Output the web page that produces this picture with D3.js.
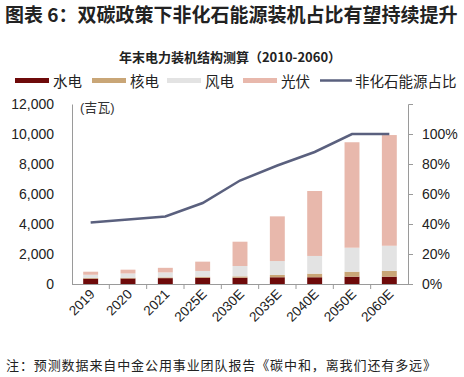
<!DOCTYPE html>
<html><head><meta charset="utf-8">
<script src="https://cdn.jsdelivr.net/npm/d3@7"></script>
<style>
body{margin:0;background:#fff;}
svg{display:block;}
</style></head>
<body><svg id="c" width="464" height="377"></svg>
<script>
const categories = ["2019","2020","2021","2025E","2030E","2035E","2040E","2050E","2060E"];
const hydro   = [356, 370, 391, 420, 420, 450, 450, 490, 490];
const nuclear = [49, 50, 53, 70, 90, 150, 240, 330, 380];
const wind    = [210, 282, 328, 380, 690, 930, 1180, 1600, 1680];
const solar   = [205, 253, 306, 620, 1620, 2980, 4330, 7030, 7380];
const share   = [0.41, 0.43, 0.45, 0.54, 0.69, 0.79, 0.88, 1.0, 1.0];
const leftTicks = [0, 2000, 4000, 6000, 8000, 10000, 12000];
const rightTicks = [0, 0.2, 0.4, 0.6, 0.8, 1.0];
const seriesNames = ["水电","核电","风电","光伏"];
const seriesColors = ["#6e0a0a","#c9a677","#e3e3e3","#e8b8ac"];
const lineName = "非化石能源占比";
const lineColor = "#5a607e";

const svg = d3.select("#c");
const font = "'Liberation Sans', Arial, 'Noto Sans CJK SC', sans-serif";
const cjk = "'Noto Sans CJK SC', sans-serif";

const x0 = 72, x1 = 408, yTop = 104, yBot = 284;
const x = d3.scaleBand().domain(categories).range([x0, x1]).paddingInner(0.6).paddingOuter(0.3);
const y = d3.scaleLinear().domain([0, 12000]).range([yBot, yTop]);
const y2 = d3.scaleLinear().domain([0, 1.2]).range([yBot, yTop]);

// title
svg.append("text").attr("x", 5).attr("y", 22).attr("font-family", cjk).attr("font-weight", "bold")
  .attr("font-size", 19).attr("fill", "#222").text("图表 6：双碳政策下非化石能源装机占比有望持续提升");
svg.append("text").attr("x", 230).attr("y", 62).attr("text-anchor", "middle").attr("font-family", cjk)
  .attr("font-weight", "bold").attr("font-size", 13).attr("fill", "#222").text("年末电力装机结构测算（2010-2060）");

// legend
const legX = [15, 92, 167, 243];
seriesNames.forEach((n, i) => {
  svg.append("rect").attr("x", legX[i]).attr("y", 78).attr("width", 34).attr("height", 5).attr("fill", seriesColors[i]);
  svg.append("text").attr("x", legX[i] + 38).attr("y", 86.5).attr("font-family", cjk).attr("font-size", 14.5)
    .attr("fill", "#222").text(n);
});
svg.append("line").attr("x1", 320).attr("x2", 352).attr("y1", 80.5).attr("y2", 80.5).attr("stroke", lineColor).attr("stroke-width", 2.5);
svg.append("text").attr("x", 355).attr("y", 86.5).attr("font-family", cjk).attr("font-size", 14.5).attr("fill", "#222").text(lineName);

// stacked bars
const table = categories.map((c, i) => ({cat: c, s0: hydro[i], s1: nuclear[i], s2: wind[i], s3: solar[i]}));
const stack = d3.stack().keys(["s0","s1","s2","s3"])(table);
stack.forEach((layer, k) => {
  svg.append("g").selectAll("rect").data(layer).join("rect")
    .attr("x", d => x(d.data.cat)).attr("width", x.bandwidth())
    .attr("y", d => y(d[1])).attr("height", d => y(d[0]) - y(d[1]))
    .attr("fill", seriesColors[k]);
});

// axes
const axisColor = "#9a9a9a";
const gl = svg.append("g").attr("transform", `translate(${x0},0)`)
  .call(d3.axisLeft(y).tickValues(leftTicks).tickSize(0).tickPadding(18).tickFormat(d3.format(",")));
gl.select(".domain").attr("stroke", axisColor);
gl.selectAll("text").attr("font-family", font).attr("font-size", 14).attr("fill", "#222");

const gr = svg.append("g").attr("transform", `translate(${x1},0)`)
  .call(d3.axisRight(y2).tickValues(rightTicks).tickSize(5).tickPadding(9).tickFormat(d3.format(".0%")));
gr.selectAll("path,line").attr("stroke", axisColor);
gr.selectAll("text").attr("font-family", font).attr("font-size", 14).attr("fill", "#222");

// bottom axis line and ticks between categories
svg.append("line").attr("x1", x0).attr("x2", x1).attr("y1", yBot + 0.5).attr("y2", yBot + 0.5).attr("stroke", axisColor);
const bounds = categories.map((c, i) => x0 + i * (x1 - x0) / categories.length).slice(1);
svg.append("g").selectAll("line").data(bounds).join("line")
  .attr("x1", d => d).attr("x2", d => d).attr("y1", yBot).attr("y2", yBot + 5).attr("stroke", axisColor);

svg.append("g").selectAll("text").data(categories).join("text")
  .attr("transform", d => `translate(${x(d) + x.bandwidth() / 2 + 5},${yBot + 11}) rotate(-45)`)
  .attr("text-anchor", "end").attr("font-family", font).attr("font-size", 13.5).attr("fill", "#222").text(d => d);

// unit
svg.append("text").attr("x", 80).attr("y", 112).attr("font-family", font).attr("font-size", 13).attr("fill", "#333").text("(吉瓦)");

// line
svg.append("path").datum(share)
  .attr("d", d3.line().x((d, i) => x(categories[i]) + x.bandwidth() / 2).y(d => y2(d)))
  .attr("fill", "none").attr("stroke", lineColor).attr("stroke-width", 2.5);

// footnote
svg.append("text").attr("x", 6).attr("y", 370).attr("font-family", cjk).attr("font-size", 13)
  .attr("fill", "#222").attr("textLength", 430).text("注：预测数据来自中金公用事业团队报告《碳中和，离我们还有多远》");
</script></body></html>
